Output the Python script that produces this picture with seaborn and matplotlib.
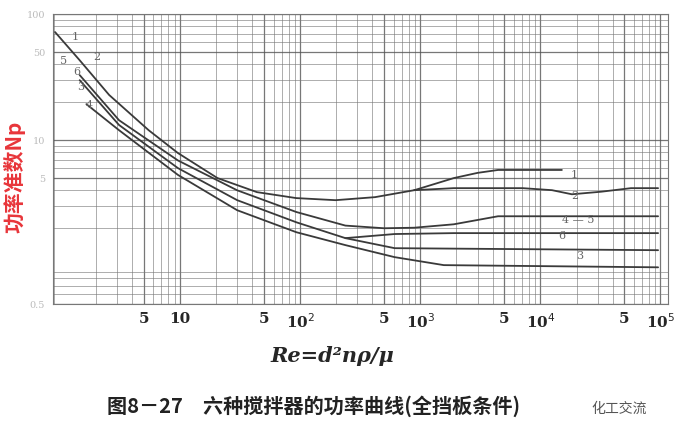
import matplotlib
matplotlib.use("Agg")
import matplotlib.pyplot as plt
from matplotlib.ticker import LogLocator, NullFormatter
import seaborn as sns
import pandas as pd

sns.set_style("white")
plt.rcParams["font.family"] = ["Noto Sans CJK SC", "DejaVu Sans"]

# curves 1/2 share the laminar part
re_12 = [0.91, 1.46, 2.57, 5.47, 9.6, 20.5, 43.6, 92.7, 197, 420, 893]
np_12 = [72, 43, 22.8, 12, 7.9, 5.0, 3.87, 3.47, 3.34, 3.53, 4.01]
re_1 = [893, 1900, 3000, 4440, 15100]
np_1 = [4.01, 5.0, 5.5, 5.8, 5.8]
re_2 = [893, 1900, 7120, 12500, 18300, 32200, 56800, 95500]
np_2 = [4.01, 4.16, 4.16, 4.01, 3.72, 3.9, 4.16, 4.16]
re_a = [1.46, 3.1, 9.6, 29.9, 93, 238, 500, 890, 1900, 4440, 95500]
np_a = [32.8, 14.4, 6.9, 4.0, 2.69, 2.1, 2.0, 2.02, 2.15, 2.49, 2.49]
re_b = [1.46, 3.1, 9.6, 29.9, 93, 238, 612, 1900, 95500]
np_b = [29.9, 13.2, 6.0, 3.34, 2.23, 1.67, 1.80, 1.83, 1.83]
re_d = [238, 612, 95500]
np_d = [1.67, 1.39, 1.34]
re_c = [1.66, 3.1, 9.6, 29.9, 93, 238, 612, 1570, 95500]
np_c = [19.3, 12, 5.3, 2.78, 1.86, 1.47, 1.18, 1.02, 0.98]

curves = {"12": (re_12, np_12), "1": (re_1, np_1), "2": (re_2, np_2),
          "a": (re_a, np_a), "b": (re_b, np_b), "d": (re_d, np_d), "c": (re_c, np_c)}

x_ticks = [5, 10, 50, 100, 500, 1000, 5000, 10000, 50000, 100000]
x_labels = ["5", "10", "5", "10$^2$", "5", "10$^3$", "5", "10$^4$", "5", "10$^5$"]
y_ticks = [100, 50, 10, 5, 0.5]
y_labels = ["100", "50", "10", "5", "0.5"]

fig = plt.figure(figsize=(6.92, 4.26), dpi=100)
ax = fig.add_axes([0.077, 0.286, 0.888, 0.681])
ax.set_xscale("log")
ax.set_yscale("log")
ax.set_xlim(0.88, 1.15e5)
ax.set_ylim(0.5, 100)

for name, (xs, ys) in curves.items():
    df = pd.DataFrame({"Re": xs, "Np": ys})
    sns.lineplot(data=df, x="Re", y="Np", ax=ax, color="#3a3a3a", lw=1.3, zorder=3)

ax.set_xticks(x_ticks, x_labels, fontsize=11, fontweight="bold", family="DejaVu Serif")
ax.set_yticks(y_ticks, y_labels, fontsize=7, color="#bbbbbb", family="DejaVu Serif")
ax.xaxis.set_minor_locator(LogLocator(base=10, subs=range(2, 10), numticks=20))
ax.yaxis.set_minor_locator(LogLocator(base=10, subs=range(2, 10), numticks=20))
ax.xaxis.set_minor_formatter(NullFormatter())
ax.yaxis.set_minor_formatter(NullFormatter())
ax.grid(True, which="major", color="#555555", lw=0.9, alpha=0.8)
ax.grid(True, which="minor", color="#777777", lw=0.7, alpha=0.6)
ax.tick_params(which="both", length=0, pad=6)
for s in ax.spines.values():
    s.set_color("#777777")

ax.set_xlabel("")
ax.set_ylabel("功率准数Np", color="#e8353a", fontsize=15, fontweight="bold")
ax.yaxis.set_label_coords(-0.045, 0.44)

labels = [("1", 1.25, 62), ("5", 1.0, 40), ("2", 1.9, 43), ("6", 1.3, 33), ("3", 1.4, 25),
          ("4", 1.65, 18), ("1", 18000, 5.0), ("2", 18000, 3.4), ("4 — 5", 15000, 2.2),
          ("6", 14000, 1.65), ("3", 20000, 1.15)]
for t, xv, yv in labels:
    ax.text(xv, yv, t, fontsize=8, color="#666666", family="DejaVu Serif")

fig.text(0.48, 0.15, "Re=d²nρ/μ", fontsize=15, fontweight="bold", style="italic",
         family="DejaVu Serif", ha="center")
fig.text(0.155, 0.03, "图8－27　六种搅拌器的功率曲线(全挡板条件)", fontsize=14.5,
         fontweight="bold", color="#222222")
fig.text(0.895, 0.03, "化工交流", fontsize=10, color="#555555", ha="center")

fig.savefig("out.png", dpi=100, facecolor="white")
